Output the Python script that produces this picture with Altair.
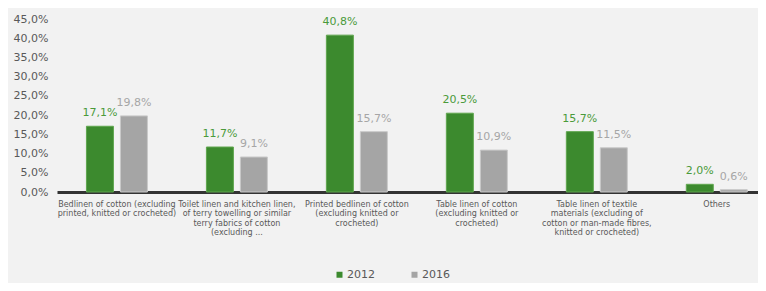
import altair as alt
import pandas as pd

categories = [
    "Bedlinen of cotton (excluding|printed, knitted or crocheted)",
    "Toilet linen and kitchen linen,|of terry towelling or similar|terry fabrics of cotton|(excluding ...",
    "Printed bedlinen of cotton|(excluding knitted or|crocheted)",
    "Table linen of cotton|(excluding knitted or|crocheted)",
    "Table linen of textile|materials (excluding of|cotton or man-made fibres,|knitted or crocheted)",
    "Others",
]
years = ["2012", "2016"]
values_2012 = [17.1, 11.7, 40.8, 20.5, 15.7, 2.0]
values_2016 = [19.8, 9.1, 15.7, 10.9, 11.5, 0.6]
y_ticks = [0, 5, 10, 15, 20, 25, 30, 35, 40, 45]

rows = []
for i, c in enumerate(categories):
    for y, v in zip(years, [values_2012[i], values_2016[i]]):
        rows.append({"cat": c, "year": y, "value": v,
                     "label": f"{v:.1f}".replace(".", ",") + "%"})
df = pd.DataFrame(rows)

FONT = "DejaVu Sans"

x = alt.X("cat:N", sort=categories, title=None,
          scale=alt.Scale(paddingInner=0.417, paddingOuter=0.13, align=0.8),
          axis=alt.Axis(labelExpr="split(datum.label, '|')", labelAngle=0,
                        labelFontSize=8, labelColor="#595959", labelFont=FONT,
                        labelLineHeight=9.5, labelPadding=8, ticks=False,
                        domainColor="#333333", domainWidth=3, labelLimit=200))
xo = alt.XOffset("year:N", sort=years,
                 scale=alt.Scale(paddingInner=0.206, paddingOuter=0.132))
y = alt.Y("value:Q", title=None,
          scale=alt.Scale(domain=[0, 45], nice=False),
          axis=alt.Axis(values=y_ticks, labelOverlap=False,
                        labelExpr="replace(format(datum.value, '.1f'), '.', ',') + '%'",
                        grid=False, domain=False, ticks=False, labelPadding=9,
                        labelFontSize=11, labelColor="#595959", labelFont=FONT))

bars = alt.Chart(df).mark_bar(strokeWidth=1).encode(
    x=x, xOffset=xo, y=y,
    color=alt.Color("year:N", sort=years, title=None,
                    scale=alt.Scale(domain=years, range=["#3c8a2e", "#a5a5a5"]),
                    legend=alt.Legend(orient="none", direction="horizontal",
                                      legendX=277, legendY=250, symbolType="square",
                                      symbolSize=36, labelFontSize=11, labelFont=FONT,
                                      labelColor="#595959", columnPadding=34,
                                      symbolStrokeWidth=0, labelOffset=2)),
    stroke=alt.Stroke("year:N", sort=years, legend=None,
                      scale=alt.Scale(domain=years, range=["#5fa64e", "#c9c9c9"])),
)

texts = alt.Chart(df).mark_text(baseline="bottom", dy=-8, fontSize=11, font=FONT).encode(
    x=x, xOffset=xo, y=y,
    text="label:N",
    fill=alt.Fill("year:N", sort=years, legend=None,
                  scale=alt.Scale(domain=years, range=["#4a9a3a", "#a6a6a6"])),
)

chart = alt.layer(bars, texts).resolve_scale(fill="independent").properties(
    width=701, height=173,
    autosize=alt.AutoSizeParams(type="none"),
    padding={"left": 49, "top": 11, "right": 0, "bottom": 91},
    background="#f2f2f2",
).configure_view(stroke=None)

chart.save("out.html", embed_options={"renderer": "svg", "actions": False})
